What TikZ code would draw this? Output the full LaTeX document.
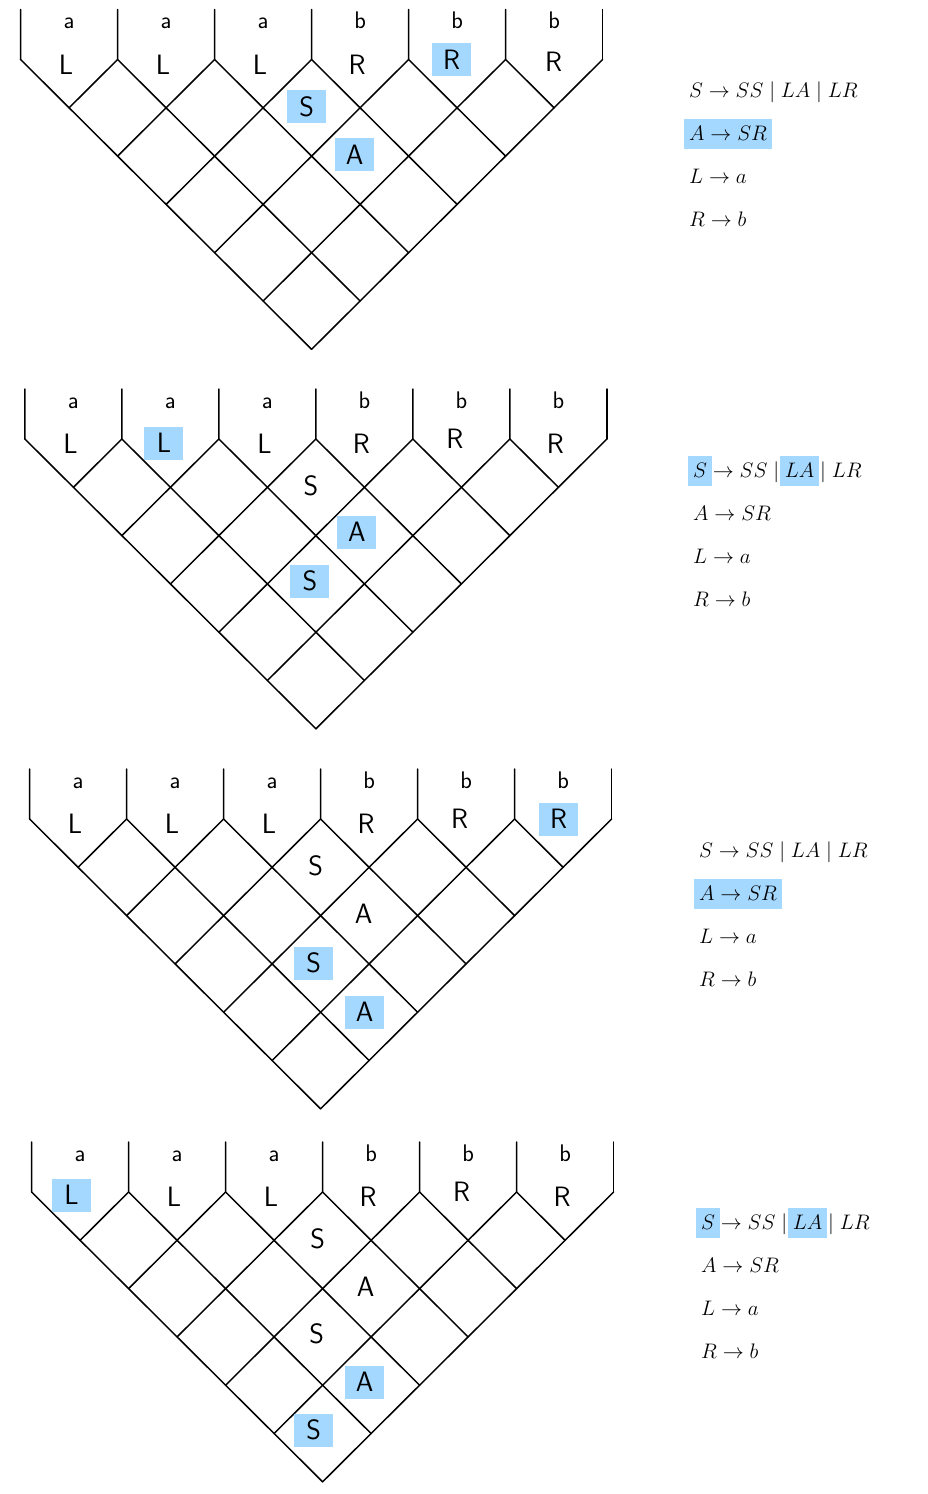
\RequirePackage{fix-cm}
\documentclass[tikz,border=0pt]{standalone}
\usepackage{amsmath}

\definecolor{hlblue}{HTML}{A5D8FF}
\setlength{\fboxsep}{5pt}
\newcommand{\hlpart}[1]{\kern-5pt\colorbox{hlblue}{\rule[-4pt]{0pt}{20pt}$#1$}\kern-5pt}

\tikzset{
	cykgrid/.pic={
		% columns and diamonds
		\foreach \i in {0,...,6} {
			\draw[cykline] (\i*97,0) -- (\i*97,50)
				-- ({\i*97+(6-\i)*48.5},{50+(6-\i)*48.3});
			\draw[cykline] (\i*97,50) -- ({\i*48.5},{50+\i*48.3});
		}
		% input word
		\foreach \k/\c in {1/a,2/a,3/a,4/b,5/b,6/b}
			\node[term] (-w\k) at ({\k*97-48.5},19) {\c};
	}
}

\begin{document}
\begin{tikzpicture}[x=1pt, y=-1pt,
	cykline/.style={line width=1.5pt, line cap=round, line join=round},
	term/.style={font=\sffamily\fontsize{24}{28}\selectfont, inner sep=0pt, anchor=base},
	sym/.style={font=\sffamily\fontsize{28}{32}\selectfont, inner sep=0pt},
	symhl/.style={sym, fill=hlblue, minimum width=39pt, minimum height=33pt},
	prod/.style={font=\fontsize{21}{25}\selectfont, inner sep=0pt, anchor=base west}]
	
	\useasboundingbox (0,0) rectangle (927,1494);
	
	% table 1
	\begin{scope}[shift={(20.6,9.5)}]
		\pic (p1) {cykgrid};
		\node[sym] (p1c11) at (45.5,55) {L};
		\node[sym] (p1c22) at (142.5,55) {L};
		\node[sym] (p1c33) at (239.5,55) {L};
		\node[sym] (p1c44) at (336.5,55) {R};
		\node[symhl] (p1c55) at (431,50) {R};
		\node[sym] (p1c66) at (533,52) {R};
		\node[symhl] (p1c34) at (286,97) {S};
		\node[symhl] (p1c35) at (334,145) {A};
	\end{scope}
	
	% grammar 1
	\node[prod] (p1g1) at (689,97) {$S \to SS \mid LA \mid LR$};
	\node[prod] (p1g2) at (689,140) {$\hlpart{A \to SR}$};
	\node[prod] (p1g3) at (689,183) {$L \to a$};
	\node[prod] (p1g4) at (689,226) {$R \to b$};
	
	% table 2
	\begin{scope}[shift={(24.9,389)}]
		\pic (p2) {cykgrid};
		\node[sym] (p2c11) at (45.5,55) {L};
		\node[symhl] (p2c22) at (139,54) {L};
		\node[sym] (p2c33) at (239.5,55) {L};
		\node[sym] (p2c44) at (336.5,55) {R};
		\node[sym] (p2c55) at (430,50) {R};
		\node[sym] (p2c66) at (530.5,55) {R};
		\node[sym] (p2c34) at (286,97) {S};
		\node[symhl] (p2c35) at (332,143) {A};
		\node[symhl] (p2c25) at (285,192) {S};
	\end{scope}
	
	% grammar 2
	\node[prod] (p2g1) at (693,477) {$\hlpart{S} \to SS \mid \hlpart{LA} \mid LR$};
	\node[prod] (p2g2) at (693,520) {$A \to SR$};
	\node[prod] (p2g3) at (693,563) {$L \to a$};
	\node[prod] (p2g4) at (693,606) {$R \to b$};
	
	% table 3
	\begin{scope}[shift={(29.6,769)}]
		\pic (p3) {cykgrid};
		\node[sym] (p3c11) at (45.5,55) {L};
		\node[sym] (p3c22) at (142.5,55) {L};
		\node[sym] (p3c33) at (239.5,55) {L};
		\node[sym] (p3c44) at (336.5,55) {R};
		\node[sym] (p3c55) at (430,50) {R};
		\node[symhl] (p3c66) at (529,50) {R};
		\node[sym] (p3c34) at (286,97) {S};
		\node[sym] (p3c35) at (334,145) {A};
		\node[symhl] (p3c25) at (284,194) {S};
		\node[symhl] (p3c26) at (335,243) {A};
	\end{scope}
	
	% grammar 3
	\node[prod] (p3g1) at (699,857) {$S \to SS \mid LA \mid LR$};
	\node[prod] (p3g2) at (699,900) {$\hlpart{A \to SR}$};
	\node[prod] (p3g3) at (699,943) {$L \to a$};
	\node[prod] (p3g4) at (699,986) {$R \to b$};
	
	% table 4
	\begin{scope}[shift={(31.6,1142)}]
		\pic (p4) {cykgrid};
		\node[symhl] (p4c11) at (40,53) {L};
		\node[sym] (p4c22) at (142.5,55) {L};
		\node[sym] (p4c33) at (239.5,55) {L};
		\node[sym] (p4c44) at (336.5,55) {R};
		\node[sym] (p4c55) at (430,50) {R};
		\node[sym] (p4c66) at (530.5,55) {R};
		\node[sym] (p4c34) at (286,97) {S};
		\node[sym] (p4c35) at (334,145) {A};
		\node[sym] (p4c25) at (285,192) {S};
		\node[symhl] (p4c26) at (333,240) {A};
		\node[symhl] (p4c16) at (282,288) {S};
	\end{scope}
	
	% grammar 4
	\node[prod] (p4g1) at (701,1229) {$\hlpart{S} \to SS \mid \hlpart{LA} \mid LR$};
	\node[prod] (p4g2) at (701,1272) {$A \to SR$};
	\node[prod] (p4g3) at (701,1315) {$L \to a$};
	\node[prod] (p4g4) at (701,1358) {$R \to b$};
	
\end{tikzpicture}
\end{document}
